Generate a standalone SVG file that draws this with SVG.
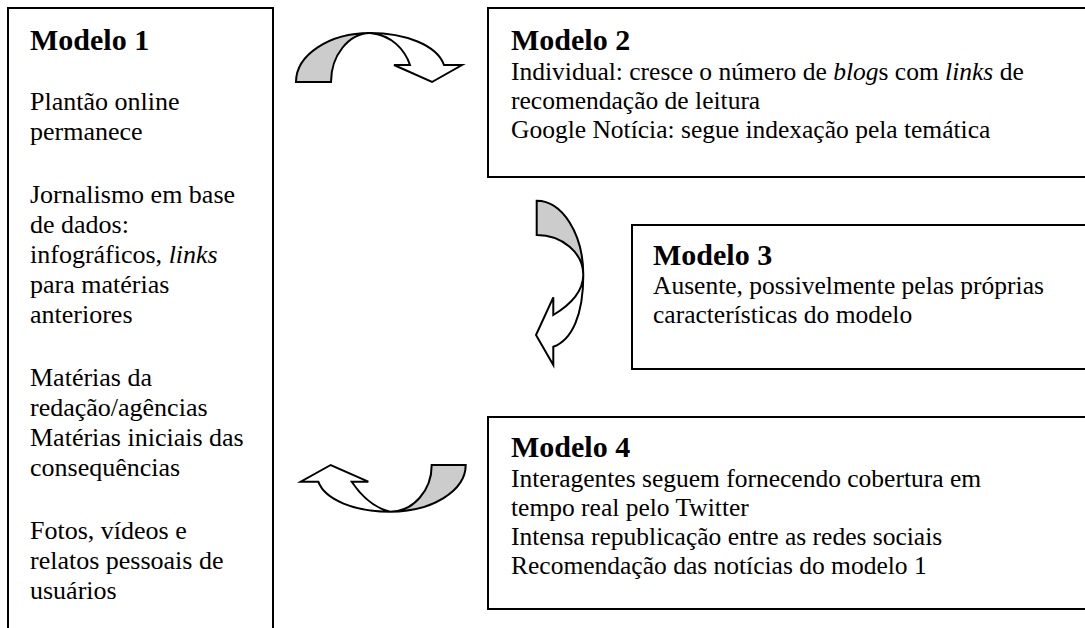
<svg xmlns="http://www.w3.org/2000/svg" width="1085" height="628" viewBox="0 0 1085 628">
<style>
.box{fill:#fff;stroke:#000;stroke-width:2}
.h{font-family:"Liberation Serif","Times New Roman",serif;font-weight:bold;font-size:30px;fill:#000}
.t{font-family:"Liberation Serif","Times New Roman",serif;font-size:26px;fill:#000}
.r{font-size:25.5px}
.i{font-style:italic}
.g{fill:#cccccc;stroke:#000;stroke-width:2;stroke-linejoin:miter}
.w{fill:#fff;stroke:#000;stroke-width:2;stroke-linejoin:miter}
</style>
<rect width="1085" height="628" fill="#fff"/>
<g id="modelo1">
<path class="box" d="M8,640 L8,8 L273,8 L273,640"/>
<text class="h" x="30" y="50">Modelo 1</text>
<text class="t" x="30" y="110">Plantão online</text>
<text class="t" x="30" y="140">permanece</text>
<text class="t" x="30" y="203">Jornalismo em base</text>
<text class="t" x="30" y="233">de dados:</text>
<text class="t" x="30" y="263">infográficos, <tspan class="i">links</tspan></text>
<text class="t" x="30" y="293">para matérias</text>
<text class="t" x="30" y="323">anteriores</text>
<text class="t" x="30" y="386">Matérias da</text>
<text class="t" x="30" y="416">redação/agências</text>
<text class="t" x="30" y="446">Matérias iniciais das</text>
<text class="t" x="30" y="476">consequências</text>
<text class="t" x="30" y="539">Fotos, vídeos e</text>
<text class="t" x="30" y="569">relatos pessoais de</text>
<text class="t" x="30" y="599">usuários</text>
</g>
<g id="modelo2">
<path class="box" d="M1095,8 L488,8 L488,177 L1095,177"/>
<text class="h" x="511" y="50">Modelo 2</text>
<text class="t r" x="511" y="80">Individual: cresce o número de <tspan class="i">blog</tspan>s com <tspan class="i">links</tspan> de</text>
<text class="t r" x="511" y="109">recomendação de leitura</text>
<text class="t r" x="511" y="138">Google Notícia: segue indexação pela temática</text>
</g>
<g id="modelo3">
<path class="box" d="M1095,225 L632,225 L632,369 L1095,369"/>
<text class="h" x="653" y="265">Modelo 3</text>
<text class="t r" x="653" y="294">Ausente, possivelmente pelas próprias</text>
<text class="t r" x="653" y="323">características do modelo</text>
</g>
<g id="modelo4">
<path class="box" d="M1095,417 L488,417 L488,609 L1095,609"/>
<text class="h" x="511" y="457">Modelo 4</text>
<text class="t r" x="511" y="487">Interagentes seguem fornecendo cobertura em</text>
<text class="t r" x="511" y="516">tempo real pelo Twitter</text>
<text class="t r" x="511" y="545">Intensa republicação entre as redes sociais</text>
<text class="t r" x="511" y="574">Recomendação das notícias do modelo 1</text>
</g>
<g id="connectors">
<g id="arrow-1-2">
<path class="g" d="M296,82 C296,54.9 329.1,33 370,33 C348.5,33.5 331,55.5 331,82 Z"/>
<path class="w" d="M370,33 C405,33 437,45 444,65 L462,65 L432,82 L394,65 L410,65 C405,50 392,35 370,33 Z"/>
</g>
<g id="arrow-2-3">
<path class="g" d="M536.7,200.7 C562.4,200.7 583.3,234 583.3,275 C583.3,253 562.4,235 536.7,235 Z"/>
<path class="w" d="M583.3,275 C583.3,315 572,340 553.3,346.7 L553.3,365 L536,335 L553.3,297.3 L553.3,315 C570,305 583,292 583.3,275 Z"/>
</g>
<g id="arrow-4-1">
<path class="g" d="M465.7,465 C465.7,490.8 431.8,511.7 390,511.7 C413,511.7 431.7,490.8 431.7,465 Z"/>
<path class="w" d="M390,511.7 C355,511.7 325,500 318.3,481.7 L300.7,481.7 L330.7,465 L368.3,481.7 L351.7,481.7 C362,497 375,508 390,511.7 Z"/>
</g>
</g>
</svg>
